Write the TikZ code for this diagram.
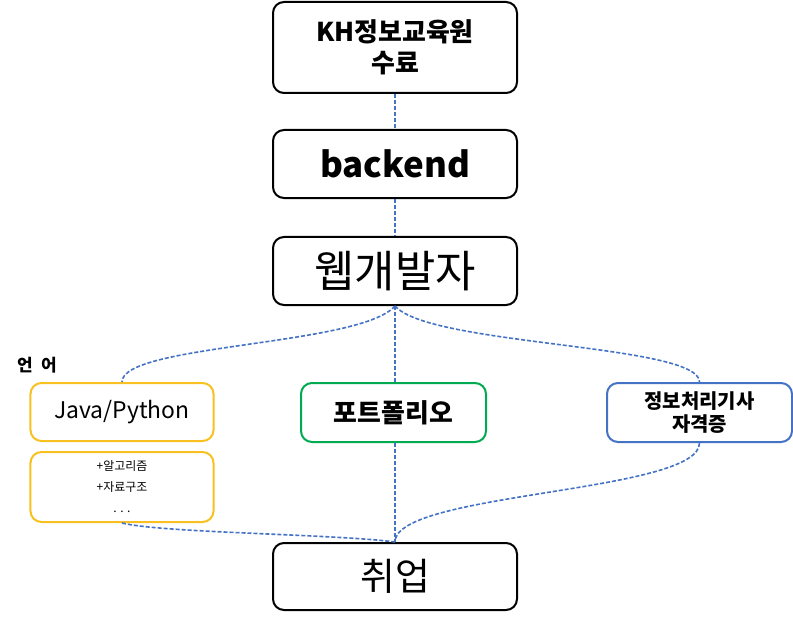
\documentclass[tikz,border=0pt]{standalone}
\usepackage{fontspec}
\setmainfont{Noto Sans CJK KR}
\definecolor{bleu}{RGB}{68,114,196}
\definecolor{jaune}{RGB}{248,192,32}
\definecolor{vert}{RGB}{0,170,80}
\begin{document}
\begin{tikzpicture}[x=1bp,y=-1bp,
boite/.style={draw,line width=2bp,rounded corners=11bp,align=center,inner sep=0pt},
lien/.style={draw=bleu,line width=1.6bp,dash pattern=on 4bp off 2bp}]
\pgfmathsetmacro{\largeur}{244};
\pgfmathsetmacro{\petit}{183};

\useasboundingbox (0,0) rectangle (793,617);

\node[boite,minimum width=\largeur bp,minimum height=91bp,
font=\bfseries\fontsize{26}{31}\selectfont] (kh) at (395,47.5) {KH정보교육원\\수료};
\node[boite,minimum width=\largeur bp,minimum height=68bp,
font=\bfseries\fontsize{35}{40}\selectfont] (back) at (395,164) {backend};
\node[boite,minimum width=\largeur bp,minimum height=68bp,
font=\fontsize{44}{48}\selectfont] (web) at (395,271) {웹개발자};

\node[font=\bfseries\fontsize{17}{18}\selectfont] (langue) at (37,365) {언\hspace{0.5em}어};
\node[boite,draw=jaune,minimum width=\petit bp,minimum height=58bp,
font=\fontsize{23}{28}\selectfont] (java) at (122,412) {Java/Python};
\node[boite,draw=jaune,minimum width=\petit bp,minimum height=70bp,
font=\fontsize{12}{21}\selectfont] (algo) at (122,487) {+알고리즘\\+자료구조\\. . .};
\node[boite,draw=vert,minimum width=185bp,minimum height=59bp,
font=\bfseries\fontsize{26}{30}\selectfont] (porte) at (393.5,412.5) {포트폴리오};
\node[boite,draw=bleu,minimum width=185bp,minimum height=59bp,
font=\bfseries\fontsize{20}{23}\selectfont] (cert) at (699.5,412.5) {정보처리기사\\자격증};

\node[boite,minimum width=\largeur bp,minimum height=67bp,
font=\fontsize{38}{42}\selectfont] (emploi) at (395,576.5) {취업};

\draw[lien] (kh.south) -- (back.north);
\draw[lien] (back.south) -- (web.north);
\draw[lien] (web.south) .. controls +(-35,40) and +(0,-38) .. (java.north);
\draw[lien] (web.south) -- (web.south|-porte.north);
\draw[lien] (web.south) .. controls +(35,40) and +(0,-38) .. (cert.north);

\draw[lien] (algo.south) .. controls +(40,10) and +(-60,-8) .. (emploi.north);
\draw[lien] (porte.south-|emploi.north) -- (emploi.north);
\draw[lien] (cert.south) .. controls +(0,50) and +(0,-50) .. (emploi.north);

\end{tikzpicture}
\end{document}
